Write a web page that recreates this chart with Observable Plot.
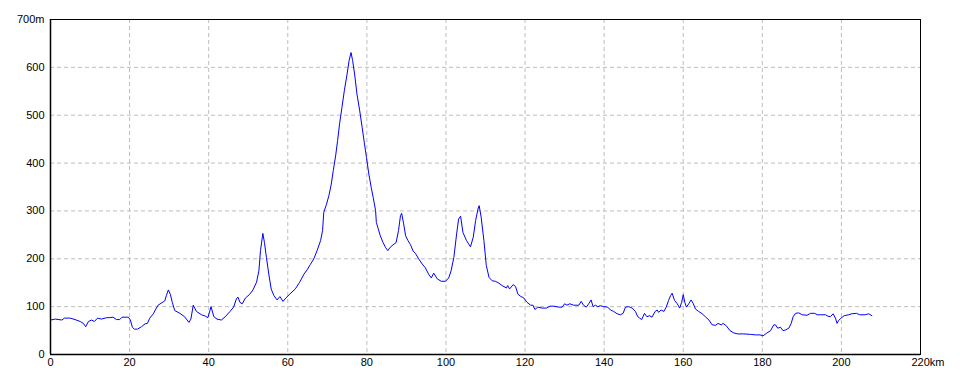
<!DOCTYPE html>
<html><head><meta charset="utf-8">
<script src="https://cdn.jsdelivr.net/npm/d3@7"></script>
<script src="https://cdn.jsdelivr.net/npm/@observablehq/plot@0.6"></script>
<style>body{margin:0;background:#fff}</style>
</head><body><div id="chart"></div>
<script>
const distanceKm = [
  0, 1.2, 2.9, 3.5, 5, 6.2, 7.5, 8.3, 8.9, 9.6,
  10.4, 11.1, 11.9, 12.9, 14.2, 15, 15.8, 16.7, 17.5, 18.1,
  19.7, 20.2, 20.7, 21.2, 22, 23, 23.9, 24.5, 25.1, 26,
  26.5, 27.2, 28.5, 28.9, 29.3, 29.8, 30.3, 30.8, 31.4, 32.7,
  33.9, 35, 35.5, 36.1, 36.9, 38.2, 39.2, 39.8, 40.6, 41.3,
  42.1, 43.2, 44.2, 45.4, 46.3, 47, 47.4, 47.9, 48.5, 49.3,
  50.4, 51.2, 52.1, 52.7, 53.1, 53.7, 54.1, 54.6, 55.2, 55.8,
  56.5, 57.3, 58, 58.8, 59.5, 60.5, 61.9, 63, 64.1, 64.9,
  65.7, 66.6, 67.4, 68.3, 68.8, 69.1, 69.8, 70.4, 71, 71.5,
  72.1, 72.6, 73.1, 73.7, 74.3, 75, 75.5, 76, 76.4, 76.9,
  77.5, 78.2, 78.8, 79.4, 79.9, 80.5, 81.1, 81.6, 82.2, 82.4,
  82.9, 83.4, 84.1, 84.7, 85.3, 85.9, 86.6, 87.4, 88, 88.5,
  88.8, 89.3, 89.8, 90.4, 91, 91.7, 92.3, 93.1, 94, 94.8,
  95.6, 96.3, 96.9, 97.8, 98.8, 99.9, 100.7, 101.3, 102, 102.7,
  103.2, 103.7, 104.3, 105.2, 106.2, 106.9, 107.5, 108.1, 108.4, 108.9,
  109.6, 110.2, 110.9, 111.7, 112.5, 113.4, 114.2, 115.3, 115.6, 116.1,
  117, 117.6, 118.2, 118.8, 119.7, 120.5, 121.4, 122, 122.5, 123.2,
  124.3, 125.4, 126.3, 127.3, 128.5, 129.4, 130, 130.6, 131.3, 132.3,
  133.6, 134.2, 134.8, 135.5, 136.1, 136.7, 137.2, 137.8, 138.4, 139,
  139.9, 140.9, 141.6, 142.4, 143.3, 144.1, 144.8, 145.4, 146.2, 147.1,
  147.9, 148.5, 149, 149.5, 150.2, 150.8, 151.5, 152.1, 152.9, 153.4,
  153.8, 154.4, 155.1, 155.7, 156.3, 156.8, 157.2, 157.8, 158.5, 159.1,
  159.6, 160, 160.4, 160.8, 161.4, 162, 162.5, 163.1, 163.9, 164.8,
  165.6, 166.5, 167.3, 168.2, 168.8, 169.6, 170.1, 170.9, 171.8, 172.8,
  173.8, 175.3, 177, 178.3, 179.4, 180.2, 181, 182.1, 182.9, 183.3,
  183.9, 184.6, 185.2, 185.8, 186.7, 187.3, 187.8, 188.4, 189.2, 190.1,
  191.3, 192.2, 193.2, 193.9, 194.7, 196, 196.6, 197.2, 197.9, 198.5,
  198.9, 199.3, 199.9, 200.7, 201.8, 202.6, 203.8, 204.6, 206, 206.9,
  207.7
];
const elevationM = [
  72, 74, 72, 76, 76, 73, 69, 65, 58, 69,
  72, 69, 76, 74, 77, 77, 78, 73, 73, 78,
  78, 72, 57, 53, 53, 58, 64, 65, 76, 85,
  93, 103, 110, 112, 123, 135, 126, 109, 92, 86,
  79, 67, 74, 103, 90, 83, 80, 77, 100, 79,
  74, 72, 79, 90, 99, 116, 120, 109, 106, 118,
  126, 135, 151, 175, 217, 253, 234, 203, 168, 137,
  123, 114, 121, 111, 118, 126, 137, 151, 168, 177,
  188, 200, 217, 238, 259, 297, 314, 332, 356, 384,
  415, 447, 482, 516, 551, 586, 614, 631, 614, 586,
  544, 509, 475, 440, 412, 377, 349, 328, 301, 276,
  262, 248, 234, 224, 217, 224, 229, 234, 259, 290,
  295, 273, 248, 238, 230, 216, 211, 200, 189, 181,
  168, 160, 170, 158, 153, 153, 160, 175, 203, 252,
  283, 289, 255, 238, 225, 245, 280, 304, 311, 287,
  238, 186, 161, 154, 153, 149, 144, 139, 144, 137,
  146, 142, 126, 122, 118, 109, 103, 103, 94, 99,
  97, 97, 101, 101, 99, 99, 106, 103, 106, 103,
  103, 111, 103, 99, 106, 114, 100, 103, 100, 102,
  100, 99, 93, 90, 85, 83, 86, 99, 100, 97,
  90, 79, 76, 73, 86, 79, 81, 78, 90, 93,
  88, 93, 90, 99, 113, 123, 128, 113, 106, 97,
  109, 125, 109, 99, 106, 114, 107, 95, 90, 85,
  79, 72, 62, 61, 65, 62, 65, 60, 50, 45,
  43, 43, 42, 41, 41, 39, 44, 50, 62, 62,
  55, 57, 50, 51, 55, 65, 79, 86, 87, 83,
  82, 86, 86, 83, 83, 83, 80, 79, 85, 76,
  65, 71, 76, 81, 83, 85, 86, 83, 83, 85,
  81
];
const xTicks = [0, 20, 40, 60, 80, 100, 120, 140, 160, 180, 200];
const xLastTick = [220];
const yTicks = [0, 100, 200, 300, 400, 500, 600];
const yLastTick = [700];
const xGrid = [20, 40, 60, 80, 100, 120, 140, 160, 180, 200];
const yGrid = [100, 200, 300, 400, 500, 600];

const data = distanceKm.map((d, i) => ({km: d, m: elevationM[i]}));

const chart = Plot.plot({
  width: 960, height: 384,
  marginLeft: 50, marginRight: 40, marginTop: 19, marginBottom: 30,
  style: {fontFamily: "'Liberation Sans', Arial, sans-serif", fontSize: "11px", color: "#000", background: "#fff"},
  x: {domain: [0, 220], label: null},
  y: {domain: [0, 700], label: null},
  marks: [
    Plot.gridX(xGrid, {stroke: "#bdbdbd", strokeOpacity: 1, strokeDasharray: "4,3"}),
    Plot.gridY(yGrid, {stroke: "#bdbdbd", strokeOpacity: 1, strokeDasharray: "4,3"}),
    Plot.axisX(xTicks, {tickSize: 0, tickPadding: 4, label: null, tickFormat: d => String(d)}),
    Plot.axisX(xLastTick, {tickSize: 0, tickPadding: 4, label: null, tickFormat: d => d + "km", textAnchor: "start", dx: -9}),
    Plot.axisY(yTicks, {tickSize: 0, tickPadding: 6, label: null, tickFormat: d => String(d)}),
    Plot.axisY(yLastTick, {tickSize: 0, tickPadding: 6, label: null, tickFormat: d => d + "m"}),
    Plot.line(data, {x: "km", y: "m", stroke: "#0000ff", strokeWidth: 1}),
    Plot.frame({stroke: "#000", strokeWidth: 1}),
    Plot.ruleX([0], {stroke: "#000", strokeWidth: 1.5}),
    Plot.ruleY([0], {stroke: "#000", strokeWidth: 1.5})
  ]
});
document.getElementById("chart").append(chart);
</script>
</body></html>
